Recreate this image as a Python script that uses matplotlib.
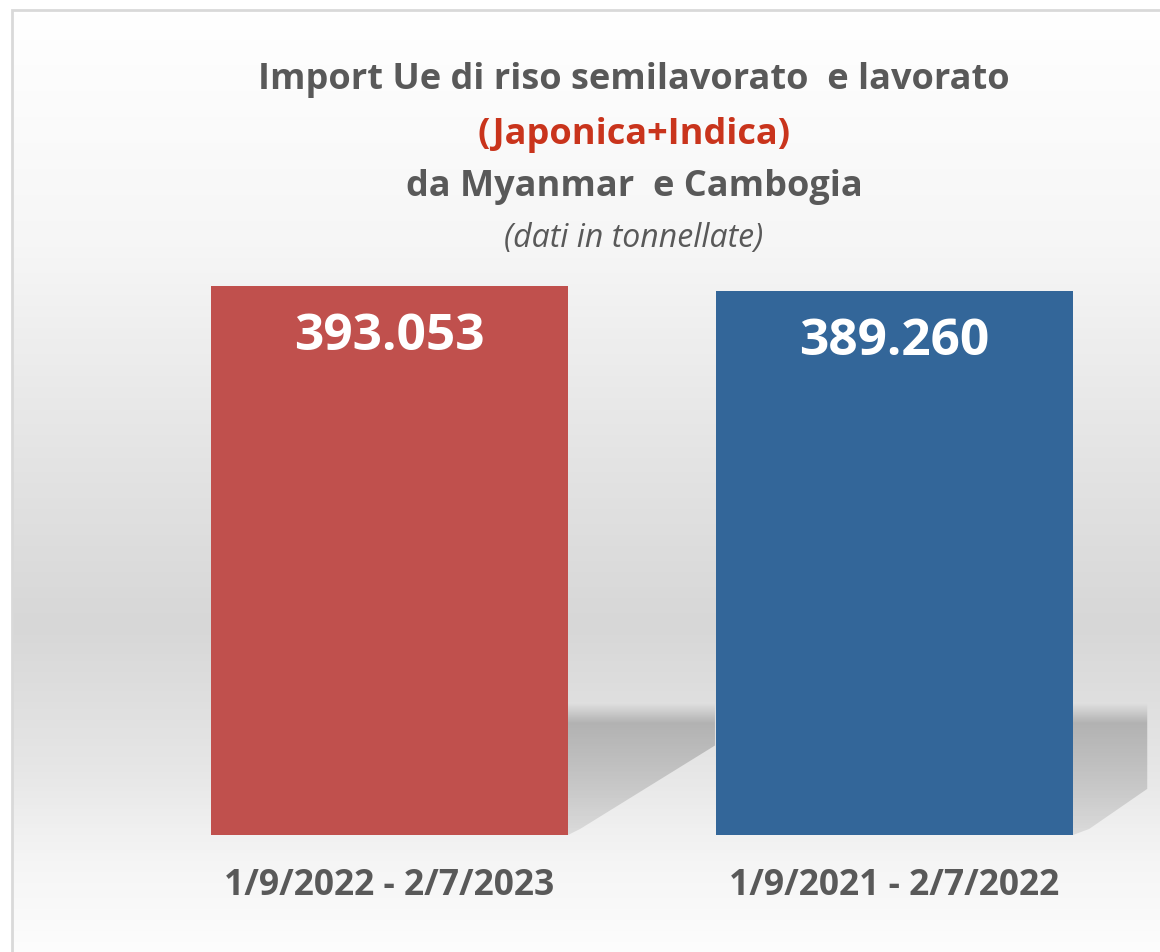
import matplotlib

matplotlib.use("Agg")
import matplotlib.pyplot as plt
import numpy as np
from matplotlib.colors import LinearSegmentedColormap
from matplotlib.patches import Polygon, Rectangle

periods = ["1/9/2022 - 2/7/2023", "1/9/2021 - 2/7/2022"]
tonnes = [393053, 389260]
value_labels = ["393.053", "389.260"]
title_lines = [
    "Import Ue di riso semilavorato  e lavorato",
    "(Japonica+Indica)",
    "da Myanmar  e Cambogia",
    "(dati in tonnellate)",
]

bar_colors = ["#C0504D", "#336699"]
text_grey = "#595959"
accent_red = "#C9341C"

plt.rcParams["font.family"] = ["Open Sans", "DejaVu Sans"]

W, H = 1160, 953
fig = plt.figure(figsize=(W / 100, H / 100), dpi=100)
fig.patch.set_facecolor("white")


def px_box(left, top, right, bottom):
    return [left / W, 1 - bottom / H, (right - left) / W, (bottom - top) / H]


# background panel with vertical grey gradient
bg = fig.add_axes(px_box(12, 11, W + 5, H + 5))
bg.set_axis_off()
stops = [(0.0, "#ffffff"), (0.25, "#f6f6f6"), (0.46, "#e5e5e5"),
         (0.65, "#d7d7d7"), (0.80, "#e6e6e6"), (0.90, "#f5f5f5"),
         (1.0, "#fdfdfd")]
cmap = LinearSegmentedColormap.from_list("bg", stops)
grad = np.linspace(0, 1, 256).reshape(-1, 1)
bg.imshow(grad, aspect="auto", cmap=cmap, extent=[0, 1, 0, 1], origin="upper")
bg.add_patch(Rectangle((0, 0), 1, 1, transform=bg.transAxes, fill=False,
                       edgecolor="#d9d9d9", linewidth=2, clip_on=False))
bg.set_xlim(0, 1)
bg.set_ylim(0, 1)

# bar axes: baseline at y=836px, top at y=287px for the largest value
ax = fig.add_axes(px_box(12, 287, W, 836))
ax.set_axis_off()
spacing = 505.0
x0 = 389.5

x = np.arange(len(tonnes))
width = 357 / spacing
ymax = max(tonnes)

# soft shadows to the right of the bars (gradient image clipped to a polygon)
rows = 200
t = np.linspace(0, 1, rows)
alpha = np.where(t < 0.15, t / 0.15 * 0.42, 0.42 - (t - 0.15) / 0.85 * 0.25)
shadow_img = np.zeros((rows, 1, 4))
shadow_img[..., :3] = 0.45
shadow_img[:, 0, 3] = alpha

for i, v in enumerate(tonnes):
    right = x[i] + width / 2
    reach = 0.291 if i == 0 else 0.147
    top = 0.24 * ymax
    if i == 0:
        pts = [(right, top), (right + reach, top), (right + reach, 0.163 * ymax),
               (right + 0.024, 0.011 * ymax), (right, 0)]
    else:
        pts = [(right, top), (right + reach, top), (right + reach, 0.084 * ymax),
               (right + 0.032, 0.011 * ymax), (right, 0)]
    poly = Polygon(pts, closed=True, facecolor="none", edgecolor="none")
    ax.add_patch(poly)
    im = ax.imshow(shadow_img, aspect="auto", origin="upper",
                   extent=[right, right + reach, 0, top], zorder=1)
    im.set_clip_path(poly)

bars = ax.bar(x, tonnes, width=width, color=bar_colors, zorder=2)
ax.set_xlim((12 - x0) / spacing, (W - x0) / spacing)
ax.set_ylim(0, ymax)

for rect, lab in zip(bars, value_labels):
    ax.annotate(lab, (rect.get_x() + rect.get_width() / 2, rect.get_height()),
                xytext=(0, -50), textcoords="offset pixels", ha="center",
                va="center", color="white", fontsize=37, fontweight="bold",
                zorder=3)

for xi, lab in zip(x, periods):
    ax.annotate(lab, (xi, 0), xytext=(0, -50), textcoords="offset pixels",
                ha="center", va="center", color=text_grey, fontsize=25.5,
                fontweight="bold", annotation_clip=False)

# title block
cx = 634 / W
fig.text(cx, 1 - 80 / H, title_lines[0], ha="center", va="center",
         color=text_grey, fontsize=26, fontweight="bold")
fig.text(cx, 1 - 135 / H, title_lines[1], ha="center", va="center",
         color=accent_red, fontsize=26, fontweight="bold")
fig.text(cx, 1 - 187 / H, title_lines[2], ha="center", va="center",
         color=text_grey, fontsize=26, fontweight="bold")
fig.text(cx, 1 - 238 / H, title_lines[3], ha="center", va="center",
         color=text_grey, fontsize=23, style="italic")

fig.savefig("out.png", dpi=100)
